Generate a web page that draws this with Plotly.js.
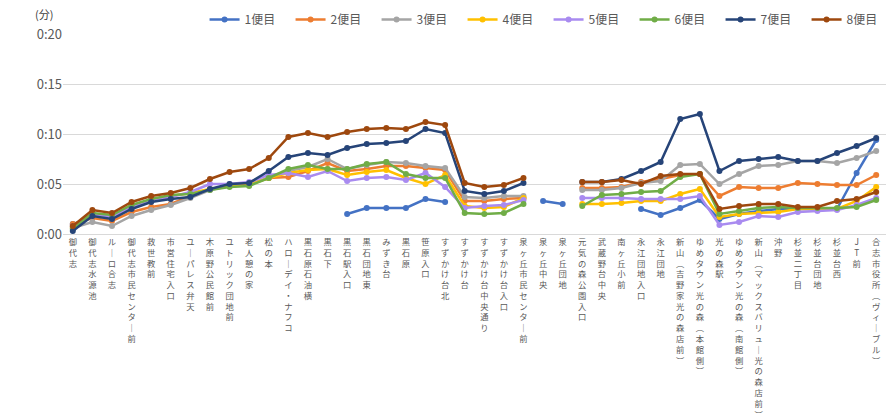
<!DOCTYPE html>
<html>
<head>
<meta charset="utf-8">
<script src="https://cdn.plot.ly/plotly-3.0.1.min.js"></script>
<style>html,body{margin:0;padding:0;background:#fff;}#chart{width:893px;height:419px;}</style>
</head>
<body>
<div id="chart"></div>
<script>
const stops = ["御代志","御代志水源池","ルーロ合志","御代志市民センター前","救世教前","市営住宅入口","ユーパレス弁天","木原野公民館前","ユトリック団地前","老人憩の家","松の本","ハローデイ・ナフコ","黒石原石油横","黒石下","黒石駅入口","黒石団地東","みずき台","黒石原","笹原入口","すずかけ台北","すずかけ台","すずかけ台中央通り","すずかけ台入口","泉ヶ丘市民センター前","泉ヶ丘中央","泉ヶ丘団地","元気の森公園入口","武蔵野台中央","南ヶ丘小前","永江団地入口","永江団地","新山(吉野家光の森店前)","ゆめタウン光の森(本館側)","光の森駅","ゆめタウン光の森(南館側)","新山(マックスバリュー光の森店前)","沖野","杉並二丁目","杉並台団地","杉並台西","JT前","合志市役所(ヴィーブル)"];

const seriesNames = ["1便目","2便目","3便目","4便目","5便目","6便目","7便目","8便目"];

const trip1 = [1.0,null,null,null,null,null,null,null,null,null,null,null,null,null,2.0,2.6,2.6,2.6,3.5,3.2,null,null,null,null,3.3,3.0,null,null,null,2.5,1.9,2.6,3.4,1.5,2.0,2.3,2.5,2.5,2.5,2.5,6.1,9.4];
const trip2 = [1.0,1.6,1.3,2.2,2.7,3.0,3.8,4.5,4.8,5.0,5.6,5.7,6.3,7.1,6.3,6.5,6.8,6.8,6.6,6.4,3.3,3.3,3.5,3.6,null,null,4.6,4.6,4.7,5.2,5.5,5.9,6.0,3.8,4.7,4.6,4.6,5.1,5.0,4.9,4.9,5.9];
const trip3 = [0.6,1.2,0.8,1.8,2.4,2.9,3.6,4.4,4.8,5.0,5.6,6.3,6.7,7.5,6.5,6.9,7.2,7.1,6.8,6.6,3.7,3.6,3.8,3.8,null,null,4.4,4.4,4.6,5.1,5.3,6.9,7.0,5.0,6.0,6.8,6.9,7.3,7.3,7.1,7.6,8.3];
const trip4 = [0.7,2.0,1.8,2.8,3.4,3.8,4.1,4.5,4.8,4.9,5.6,6.1,6.4,6.5,5.9,6.2,6.4,5.6,5.0,5.9,2.8,2.6,2.7,3.6,null,null,3.0,3.0,3.1,3.3,3.3,4.0,4.5,1.7,2.0,2.1,2.2,2.5,2.5,2.5,3.3,4.7];
const trip5 = [0.8,2.0,1.7,2.7,3.3,3.7,4.2,5.0,5.0,5.2,5.9,6.1,5.7,6.3,5.3,5.6,5.7,5.4,6.1,4.7,2.6,2.8,2.9,3.4,null,null,3.6,3.6,3.6,3.5,3.5,3.5,3.8,0.9,1.2,1.8,1.7,2.2,2.3,2.4,2.9,3.6];
const trip6 = [0.5,2.1,1.9,2.9,3.5,3.9,4.0,4.4,4.7,4.8,5.6,6.5,6.9,6.5,6.5,7.0,7.2,6.0,5.6,5.6,2.1,2.0,2.1,3.0,null,null,2.8,3.9,4.0,4.2,4.3,5.7,6.0,2.0,2.3,2.6,2.7,2.6,2.6,2.6,2.7,3.4];
const trip7 = [0.3,1.8,1.5,2.5,3.2,3.5,3.7,4.5,5.0,5.1,6.3,7.7,8.1,7.9,8.6,9.0,9.1,9.3,10.5,10.1,4.3,4.0,4.3,5.1,null,null,5.2,5.2,5.5,6.3,7.2,11.5,12.0,6.3,7.3,7.5,7.7,7.3,7.3,8.1,8.8,9.6];
const trip8 = [0.8,2.4,2.1,3.2,3.8,4.1,4.6,5.5,6.2,6.5,7.6,9.7,10.1,9.7,10.2,10.5,10.6,10.5,11.2,10.9,5.1,4.7,4.9,5.6,null,null,5.2,5.2,5.4,5.0,5.8,6.0,6.0,2.5,2.8,3.0,3.0,2.7,2.7,3.3,3.5,4.2];

const yTickVals = [0,5,10,15,20];
const yTickText = ["0:00","0:05","0:10","0:15","0:20"];

const colors = ["#4472C4","#ED7D31","#A5A5A5","#FFC000","#A98BF0","#70AD47","#264478","#9E480E"];
const allData = [trip1,trip2,trip3,trip4,trip5,trip6,trip7,trip8];

function vertical(s){
  const map = {"ー":"｜","(":"︵",")":"︶"};
  return Array.from(s).map(c => map[c] || c).join("<br>");
}

const traces = allData.map((d,i) => ({
  x: stops, y: d, name: seriesNames[i], type: "scatter", mode: "lines+markers",
  line: {color: colors[i], width: 2.5},
  marker: {color: colors[i], size: 6},
  connectgaps: false
}));

const layout = {
  width: 893, height: 419,
  margin: {l: 63, r: 7, t: 34, b: 185, autoexpand: false},
  paper_bgcolor: "#fff", plot_bgcolor: "#fff",
  font: {family: "Noto Sans CJK JP, Noto Sans, sans-serif", color: "#595959"},
  showlegend: true,
  legend: {orientation: "h", x: 0.172, xanchor: "left", y: 1.0, yanchor: "bottom",
           font: {size: 12, color: "#595959"}, itemwidth: 30, tracegroupgap: 0,
           entrywidth: 41, entrywidthmode: "pixels"},
  xaxis: {type: "category", tickvals: stops, ticktext: stops.map(vertical), tickangle: 0,
          tickfont: {size: 8.3, color: "#595959"}, showgrid: false, showline: true,
          linecolor: "#d9d9d9", ticks: "", range: [-0.5, 41.5], fixedrange: true},
  yaxis: {range: [0, 20], tickvals: yTickVals, ticktext: yTickText, showgrid: true,
          gridcolor: "#d9d9d9", zeroline: false, showline: false, ticks: "",
          tickfont: {size: 13, color: "#595959"}, fixedrange: true},
  annotations: [{text: "(分)", xref: "paper", yref: "paper", x: -0.023, y: 1.0, yshift: 20,
                 xanchor: "center", yanchor: "middle", showarrow: false,
                 font: {size: 11, color: "#404040"}}]
};

Plotly.newPlot("chart", traces, layout, {displayModeBar: false, staticPlot: true});
</script>
</body>
</html>
